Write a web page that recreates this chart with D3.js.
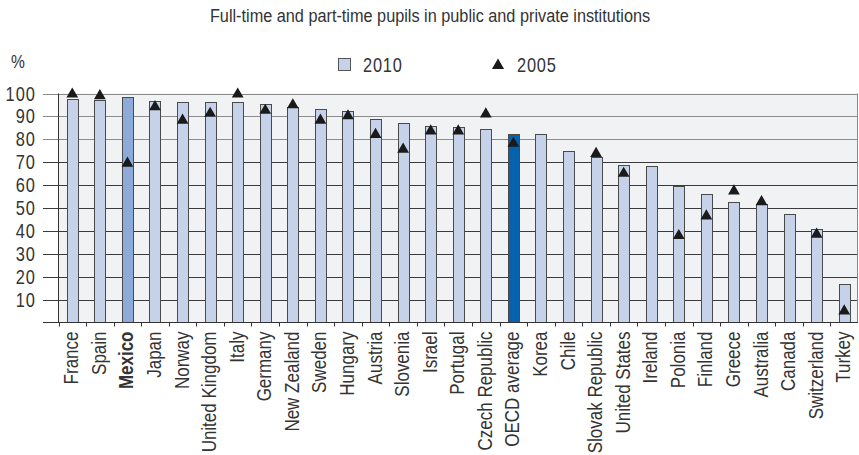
<!DOCTYPE html>
<html>
<head>
<meta charset="utf-8">
<script src="https://cdn.jsdelivr.net/npm/d3@7"></script>
<style>
  html, body { margin: 0; padding: 0; background: #ffffff; }
  svg { display: block; }
  text { font-family: "Liberation Sans", Arial, sans-serif; fill: #333; }
</style>
</head>
<body>
<svg id="chart" width="859" height="455"></svg>
<script>
const categories = ["France","Spain","Mexico","Japan","Norway","United Kingdom","Italy","Germany","New Zealand","Sweden","Hungary","Austria","Slovenia","Israel","Portugal","Czech Republic","OECD average","Korea","Chile","Slovak Republic","United States","Ireland","Polonia","Finland","Greece","Australia","Canada","Switzerland","Turkey"];
const values2010 = [97.8, 97.1, 98.5, 96.8, 96.5, 96.3, 96.3, 95.6, 94.3, 93.4, 92.4, 88.7, 86.9, 85.6, 85.3, 84.7, 82.4, 82.1, 74.8, 72.3, 68.9, 68.3, 59.4, 56.2, 52.7, 51.7, 47.2, 40.8, 16.7];
const values2005 = [99.7, 99.0, 69.5, 94.2, 88.3, 91.3, 99.7, 92.6, 95.0, 88.3, 90.2, 82.1, 75.6, 83.6, 83.6, 91.0, 78.2, null, null, 73.8, 65.1, null, 37.9, 46.5, 57.4, 52.7, null, 38.5, 5.0];
const yTicks = [10, 20, 30, 40, 50, 60, 70, 80, 90, 100];
const seriesNames = ["2010", "2005"];
const titleText = "Full-time and part-time pupils in public and private institutions";
const unitLabel = "%";

(function () {
const svg = d3.select("#chart");
const pLeft = 58.5, pRight = 858, pTop = 93.5, pBottom = 322.5;

const x = d3.scaleBand().domain(categories).range([pLeft, pRight]).padding(0);
const y = d3.scaleLinear().domain([0, 100]).range([pBottom, pTop]);

const colorDefault = "#c6d2ea";
const colorMexico = "#8eaad9";
const colorOECD = "#0563ae";
const barFill = d => d === "Mexico" ? colorMexico : (d === "OECD average" ? colorOECD : colorDefault);

function ctext(g, tx, ty, size, anchor, str, rot, sx) {
  return g.append("text")
    .attr("transform", `translate(${tx},${ty})${rot ? " rotate(" + rot + ")" : ""} scale(${sx || 0.82},1)`)
    .attr("text-anchor", anchor)
    .attr("font-size", size)
    .text(str);
}

// Title
ctext(svg, 430, 22, 18.5, "middle", titleText, 0, 0.88);

// Legend
const legend = svg.append("g");
legend.append("rect").attr("x", 338.5).attr("y", 58.5).attr("width", 12).attr("height", 12)
  .attr("fill", colorDefault).attr("stroke", "#555").attr("stroke-width", 1);
ctext(legend, 363, 72, 20, "start", seriesNames[0]).attr("letter-spacing", 1);
legend.append("path")
  .attr("d", d3.symbol().type(d3.symbolTriangle).size(64)())
  .attr("transform", "translate(498,65.5)")
  .attr("fill", "#1a1a1a");
ctext(legend, 517, 72, 20, "start", seriesNames[1]).attr("letter-spacing", 1);

// "%" unit
ctext(svg, 11, 68, 19, "start", unitLabel);

// Plot background
svg.append("rect").attr("x", pLeft).attr("y", pTop).attr("width", pRight - pLeft).attr("height", pBottom - pTop)
  .attr("fill", "#f1f2f4");

// Gridlines
svg.append("g").selectAll("line").data(yTicks).join("line")
  .attr("x1", 43).attr("x2", pRight)
  .attr("y1", d => Math.round(y(d)) + 0.5).attr("y2", d => Math.round(y(d)) + 0.5)
  .attr("stroke", d => d >= 80 ? "#8a8a8a" : "#3a3a3a").attr("stroke-width", 1);

// Right border
svg.append("line").attr("x1", pRight - 0.5).attr("x2", pRight - 0.5).attr("y1", pTop).attr("y2", pBottom)
  .attr("stroke", "#8a8a8a");

// Y axis labels
const yl = svg.append("g");
yTicks.forEach(d => {
  ctext(yl, 36, y(d) + 7, 20, "end", String(d)).attr("letter-spacing", 1.3);
});

// Bars
const barW = 11;
svg.append("g").selectAll("rect").data(categories).join("rect")
  .attr("x", d => Math.round(x(d) + x.bandwidth() / 2 - barW / 2) + 0.5)
  .attr("y", (d, i) => Math.round(y(values2010[i])) + 0.5)
  .attr("width", barW)
  .attr("height", (d, i) => pBottom - Math.round(y(values2010[i])) - 0.5)
  .attr("fill", d => barFill(d))
  .attr("stroke", "#4a4a4a").attr("stroke-width", 1);

// Y axis line
svg.append("line").attr("x1", pLeft).attr("x2", pLeft).attr("y1", pTop).attr("y2", pBottom)
  .attr("stroke", "#333");

// X axis line + ticks
svg.append("line").attr("x1", 43).attr("x2", pRight).attr("y1", pBottom).attr("y2", pBottom)
  .attr("stroke", "#333");
const tickPos = categories.map(c => x(c));
svg.append("g").selectAll("line").data(tickPos).join("line")
  .attr("x1", d => Math.round(d) + 0.5).attr("x2", d => Math.round(d) + 0.5)
  .attr("y1", pBottom).attr("y2", pBottom + 4)
  .attr("stroke", "#333");

// 2005 triangles
const tri = d3.symbol().type(d3.symbolTriangle).size(60)();
svg.append("g").selectAll("path")
  .data(categories.map((c, i) => ({c, v: values2005[i]})).filter(d => d.v !== null))
  .join("path")
  .attr("d", tri)
  .attr("transform", d => `translate(${x(d.c) + x.bandwidth() / 2},${y(d.v)})`)
  .attr("fill", "#1a1a1a");

// X labels
const xl = svg.append("g");
categories.forEach(c => {
  const t = ctext(xl, x(c) + x.bandwidth() / 2 + 6, 331.5, 20, "end", c, -90, 0.85);
  if (c === "Mexico") t.attr("font-weight", "bold");
});
})();
</script>
</body>
</html>
